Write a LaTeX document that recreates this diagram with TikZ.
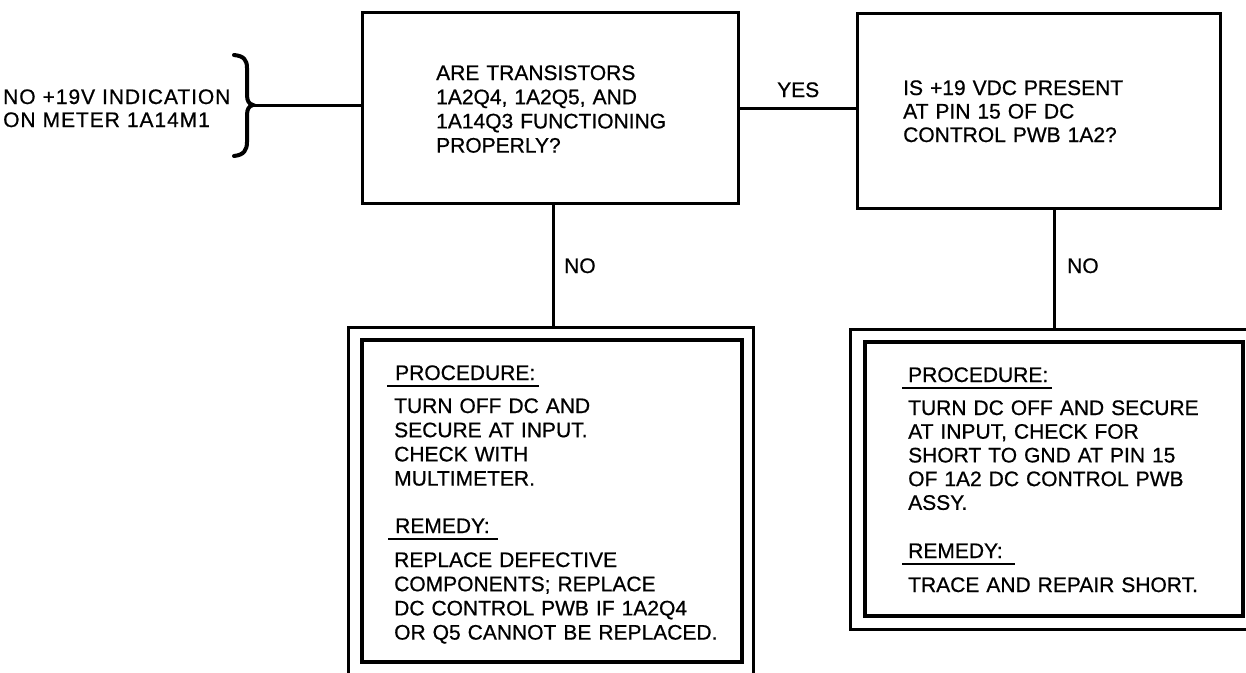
\documentclass[tikz,border=0pt]{standalone}
\usepackage{fontspec}
\setmainfont{Liberation Sans}[FakeBold=0.7]
\begin{document}
\begin{tikzpicture}[x=1pt,y=-1pt,
  box/.style={draw,line width=3pt,inner sep=0pt},
  innerbox/.style={draw,line width=4pt,inner sep=0pt},
  wire/.style={line width=3pt},
  txt/.style={anchor=base west,inner sep=0pt,align=left,text width=340pt,
    font=\fontsize{21}{24.2}\selectfont},
  lbl/.style={anchor=base west,inner sep=0pt,font=\fontsize{21}{24}\selectfont},
  uline/.style={line width=2pt}]
\useasboundingbox (0,0) rectangle (1246,672);
\clip (0,0) rectangle (1246,672);
% start text and brace
\node[txt,font=\fontsize{21}{23}\selectfont\addfontfeature{LetterSpace=4.5}] (start) at (3,104) {NO +19V INDICATION\\ON METER 1A14M1};
\draw[line width=4pt,line cap=round] (234,55) .. controls (244,56) and (247,60) .. (247,68) -- (247,95) .. controls (247,101) and (249,104) .. (253,105) .. controls (249,106) and (247,109) .. (247,115) -- (247,142) .. controls (247,150) and (244,155) .. (234,156);
\coordinate (bt) at (253,105);
% question boxes
\node[box,minimum width=376pt,minimum height=191pt] (q1) at (550,107.5) {};
\node[box,minimum width=363pt,minimum height=195pt] (q2) at (1038.5,110.5) {};
\node[txt] (q1t) at (436,80) {ARE TRANSISTORS\\1A2Q4, 1A2Q5, AND\\1A14Q3 FUNCTIONING\\PROPERLY?};
\node[txt,font=\fontsize{21}{23.5}\selectfont] (q2t) at (903,95) {IS +19 VDC PRESENT\\AT PIN 15 OF DC\\CONTROL PWB 1A2?};
% procedure boxes
\node[box,minimum width=405pt,minimum height=360pt] (p1o) at (550.5,507) {};
\node[innerbox,minimum width=380pt,minimum height=322pt] (p1i) at (552,501) {};
\node[box,minimum width=420pt,minimum height=300pt] (p2o) at (1060,479) {};
\node[innerbox,minimum width=378pt,minimum height=274pt] (p2i) at (1054,479) {};
% connectors
\draw[wire] (bt) -- (bt -| q1.west);
\draw[wire] ([yshift=-0.5pt]q1.east) -- ([yshift=-0.5pt]q1.east -| q2.west);
\node[lbl] (yes) at (777,97) {YES};
\draw[wire] ([xshift=3pt]q1.south) -- ([xshift=3pt]q1.south |- p1o.north);
\node[lbl] (no1) at (564,273) {NO};
\draw[wire] ([xshift=15.5pt]q2.south) -- ([xshift=15.5pt]q2.south |- p2o.north);
\node[lbl] (no2) at (1067,273) {NO};
% procedure 1 text
\node[txt] (p1a) at (395,380) {PROCEDURE:};
\draw[uline] (387,386) -- (539,386);
\node[txt] (p1b) at (394,413) {TURN OFF DC AND\\SECURE AT INPUT.\\CHECK WITH\\MULTIMETER.};
\node[txt] (p1c) at (395,533) {REMEDY:};
\draw[uline] (388,539) -- (498,539);
\node[txt] (p1d) at (394,567) {REPLACE DEFECTIVE\\COMPONENTS; REPLACE\\DC CONTROL PWB IF 1A2Q4\\OR Q5 CANNOT BE REPLACED.};
% procedure 2 text
\node[txt] (p2a) at (908,382) {PROCEDURE:};
\draw[uline] (902,388) -- (1052,388);
\node[txt,font=\fontsize{21}{23.7}\selectfont] (p2b) at (908,415) {TURN DC OFF AND SECURE\\AT INPUT, CHECK FOR\\SHORT TO GND AT PIN 15\\OF 1A2 DC CONTROL PWB\\ASSY.};
\node[txt] (p2c) at (908,558) {REMEDY:};
\draw[uline] (902,564) -- (1015,564);
\node[txt] (p2d) at (908,592) {TRACE AND REPAIR SHORT.};
\end{tikzpicture}
\end{document}
